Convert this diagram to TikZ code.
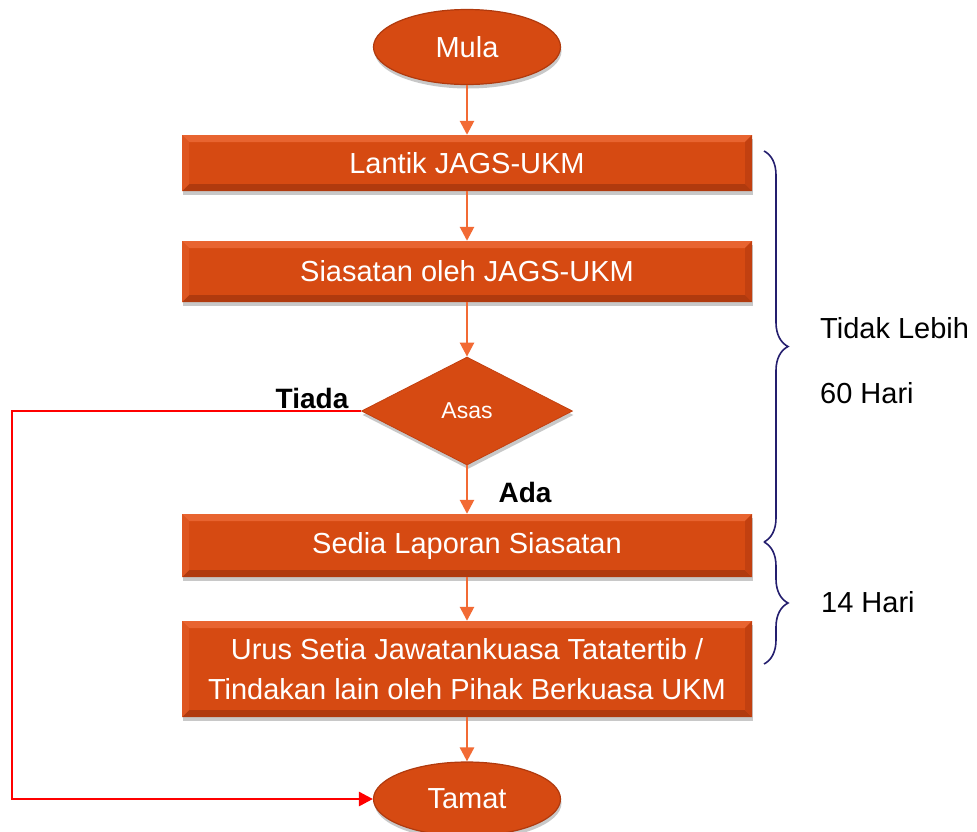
\documentclass[tikz,border=0pt]{standalone}
\usepackage{fontspec}
\setmainfont{Liberation Sans}
\usetikzlibrary{shapes.geometric,arrows.meta,shadows,decorations.pathreplacing}
\definecolor{boxfill}{RGB}{214,74,18}
\definecolor{boxtop}{RGB}{232,100,48}
\definecolor{boxbot}{RGB}{176,58,14}
\definecolor{boxright}{RGB}{194,64,16}
\definecolor{boxleft}{RGB}{222,86,32}
\definecolor{arrowor}{RGB}{242,106,52}
\definecolor{bracecol}{RGB}{36,30,110}
\definecolor{redline}{RGB}{255,0,0}
\tikzset{
  bigfont/.style={font=\fontsize{29}{40}\selectfont},
  shade3d/.style={drop shadow={shadow xshift=1pt,shadow yshift=-4pt,opacity=0.3,fill=black!70}},
  bevel/.style={path picture={
      \fill[boxtop] (path picture bounding box.north west) -- (path picture bounding box.north east)
        -- ([shift={(-7pt,-7pt)}]path picture bounding box.north east) -- ([shift={(7pt,-7pt)}]path picture bounding box.north west) -- cycle;
      \fill[boxbot] (path picture bounding box.south west) -- (path picture bounding box.south east)
        -- ([shift={(-7pt,7pt)}]path picture bounding box.south east) -- ([shift={(7pt,7pt)}]path picture bounding box.south west) -- cycle;
      \fill[boxleft] (path picture bounding box.north west) -- (path picture bounding box.south west)
        -- ([shift={(7pt,7pt)}]path picture bounding box.south west) -- ([shift={(7pt,-7pt)}]path picture bounding box.north west) -- cycle;
      \fill[boxright] (path picture bounding box.north east) -- (path picture bounding box.south east)
        -- ([shift={(-7pt,7pt)}]path picture bounding box.south east) -- ([shift={(-7pt,-7pt)}]path picture bounding box.north east) -- cycle;
  }},
  stepbox/.style={rectangle, fill=boxfill, bevel, shade3d, minimum width=570pt, inner sep=0pt,
    text=white, bigfont, align=center},
  termnode/.style={ellipse, fill=boxfill, draw=boxbot, line width=1.2pt, shade3d, minimum width=187pt,
    minimum height=75pt, inner sep=0pt, text=white, bigfont},
  decnode/.style={diamond, fill=boxfill, draw=boxright, line width=0.8pt, shade3d, minimum width=211pt,
    minimum height=108pt, inner sep=0pt, text=white, font=\fontsize{23}{27}\selectfont},
  flow/.style={draw=arrowor, line width=2.6pt, -{Triangle[width=14pt,length=14pt]}},
  noflow/.style={draw=redline, line width=2.8pt, -{Triangle[width=14pt,length=14pt]}},
  lbl/.style={inner sep=0pt, anchor=base, bigfont},
  side/.style={inner sep=0pt, anchor=base west, bigfont},
  bracepath/.style={draw=bracecol, line width=1.6pt, decorate, decoration={brace, amplitude=24pt}}
}
\begin{document}
\begin{tikzpicture}[x=1pt,y=-1pt]
\useasboundingbox (0,0) rectangle (977,831);
\fill[white] (0,0) rectangle (977,831);

\node[termnode] (mula) at (467,47) {Mula};
\node[stepbox, minimum height=56pt] (b1) at (467,163) {Lantik JAGS-UKM};
\node[stepbox, minimum height=61pt] (b2) at (467,271.5) {Siasatan oleh JAGS-UKM};
\node[decnode] (asas) at (467,411) {Asas};
\node[stepbox, minimum height=63pt] (b3) at (467,545.5) {Sedia Laporan Siasatan};
\node[stepbox, minimum height=96pt] (b4) at (467,669) {Urus Setia Jawatankuasa Tatatertib /\\Tindakan lain oleh Pihak Berkuasa UKM};
\node[termnode, minimum height=74pt] (tamat) at (467,799) {Tamat};

\draw[flow] (mula.south) -- (b1.north);
\draw[flow] (b1.south) -- (b2.north);
\draw[flow] (b2.south) -- (asas.north);
\draw[flow] (asas.south) -- (b3.north);
\draw[flow] (b3.south) -- (b4.north);
\draw[flow] (b4.south) -- (tamat.north);

\coordinate (rc1) at (12,411);
\coordinate (rc2) at (12,799);
\draw[noflow] (asas.west) -- (rc1) -- (rc2) -- (tamat.west);

\node[lbl, font=\fontsize{28}{34}\selectfont\bfseries] (tiada) at (312,408) {Tiada};
\node[lbl, font=\fontsize{28}{34}\selectfont\bfseries] (ada) at (525,502) {Ada};

\coordinate (bra) at (764,151);
\coordinate (brb) at (764,542);
\coordinate (brc) at (764,664);
\draw[bracepath] (bra) -- (brb);
\draw[bracepath] (brb) -- (brc);

\node[side] (t1) at (820,338) {Tidak Lebih};
\node[side] (t2) at (820,403) {60 Hari};
\node[side] (t3) at (821,612) {14 Hari};
\end{tikzpicture}
\end{document}
